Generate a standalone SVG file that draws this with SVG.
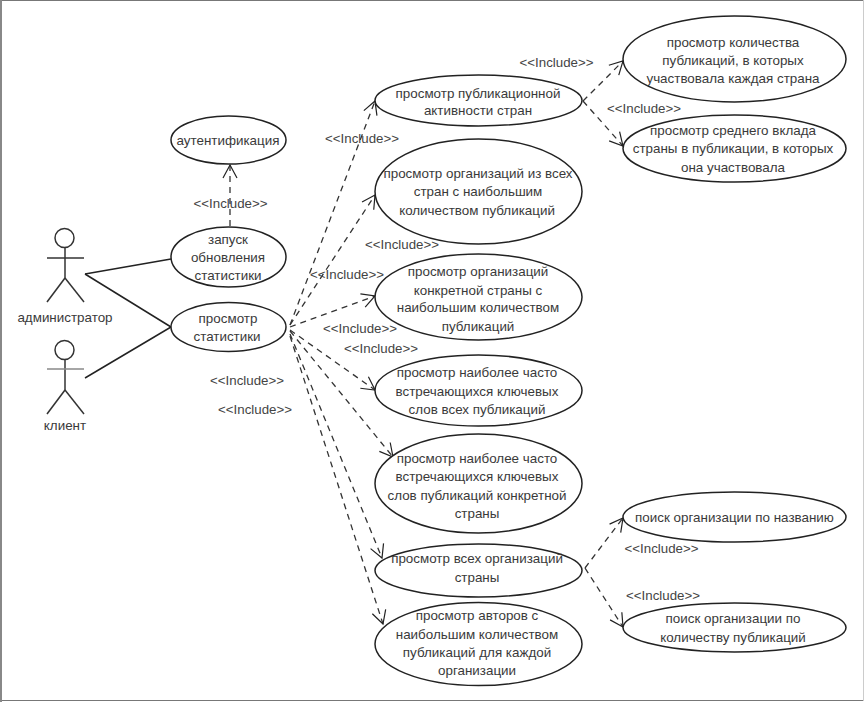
<svg xmlns="http://www.w3.org/2000/svg" width="864" height="702" viewBox="0 0 864 702">
<defs>
<marker id="a" markerWidth="18" markerHeight="18" refX="15" refY="9" orient="auto" markerUnits="userSpaceOnUse"><path d="M2 2L15 9L2 16" fill="none" stroke="#222" stroke-width="1.200"/></marker>
</defs>
<style>
text{font-family:"Liberation Sans",Arial,sans-serif;font-size:13.400px;fill:#3a3a3a;text-anchor:middle}
.n ellipse{fill:#fff;stroke:#222;stroke-width:1.500}
.act line,.act circle{fill:#fff;stroke:#333;stroke-width:1.500}
#c line.s{stroke:#222;stroke-width:1.500}
#c line.d{stroke:#333;stroke-width:1.300;stroke-dasharray:6 5;marker-end:url(#a)}
.l{font-size:13.300px;fill:#444}
</style>
<rect width="864" height="702" fill="#fff"/>
<path d="M0 .5H864M0 700.500H864" fill="none" stroke="#777" stroke-width="1"/>
<path d="M1 0V702" fill="none" stroke="#888" stroke-width="2"/>
<path d="M863.500 0V701" fill="none" stroke="#ccc" stroke-width="1"/>
<g id="c">
<line class="s" x1="85" y1="274" x2="171" y2="259"/>
<line class="s" x1="85" y1="274" x2="171" y2="327"/>
<line class="s" x1="85" y1="378" x2="171" y2="327"/>
<line class="d" x1="230" y1="226" x2="230" y2="165"/>
<line class="d" x1="290" y1="325" x2="375" y2="101"/>
<line class="d" x1="290" y1="325" x2="375" y2="195"/>
<line class="d" x1="290" y1="327" x2="375" y2="296"/>
<line class="d" x1="290" y1="330" x2="375" y2="390"/>
<line class="d" x1="290" y1="331" x2="393" y2="457"/>
<line class="d" x1="290" y1="334" x2="382" y2="558"/>
<line class="d" x1="290" y1="336" x2="383" y2="624"/>
<line class="d" x1="583" y1="101" x2="623" y2="61"/>
<line class="d" x1="583" y1="101" x2="623" y2="146"/>
<line class="d" x1="585" y1="568" x2="623" y2="518"/>
<line class="d" x1="585" y1="568" x2="623" y2="627"/>
</g>
<g id="actor-admin" class="act"><circle cx="64.500" cy="238" r="9.500"/><line x1="65" y1="248" x2="65" y2="278"/><line x1="47" y1="258" x2="84" y2="258"/><line x1="65" y1="278" x2="47" y2="302"/><line x1="65" y1="278" x2="84" y2="302"/><text x="65" y="322">администратор</text></g>
<g id="actor-client" class="act"><circle cx="64.500" cy="350" r="9.500"/><line x1="65" y1="360" x2="65" y2="390"/><line x1="47" y1="369" x2="84" y2="369" style="stroke:#888"/><line x1="65" y1="390" x2="47" y2="414"/><line x1="65" y1="390" x2="84" y2="414"/><text x="65" y="430">клиент</text></g>
<g id="n1" class="n"><ellipse cx="228.500" cy="140" rx="57.500" ry="24"/><text x="228" y="145">аутентификация</text></g>
<g id="n2" class="n"><ellipse cx="228.500" cy="257" rx="57.500" ry="30"/><text x="228" y="244">запуск</text><text x="228" y="262">обновления</text><text x="228" y="280">статистики</text></g>
<g id="n3" class="n"><ellipse cx="228.500" cy="327" rx="57.500" ry="24.500"/><text x="228" y="323">просмотр</text><text x="227" y="341">статистики</text></g>
<g id="n4" class="n"><ellipse cx="478.500" cy="100.500" rx="103.500" ry="25.500"/><text x="478" y="98">просмотр публикационной</text><text x="478" y="115">активности стран</text></g>
<g id="n5" class="n"><ellipse cx="478.500" cy="191.500" rx="103.500" ry="52.500"/><text x="478" y="178">просмотр организаций из всех</text><text x="478" y="196">стран с наибольшим</text><text x="477" y="215">количеством публикаций</text></g>
<g id="n6" class="n"><ellipse cx="478.500" cy="297" rx="103.500" ry="43"/><text x="478" y="276">просмотр организаций</text><text x="478" y="295">конкретной страны с</text><text x="478" y="312">наибольшим количеством</text><text x="478" y="331">публикаций</text></g>
<g id="n7" class="n"><ellipse cx="478.500" cy="390.500" rx="103.500" ry="35.500"/><text x="477" y="377">просмотр наиболее часто</text><text x="477" y="396">встречающихся ключевых</text><text x="477" y="414">слов всех публикаций</text></g>
<g id="n8" class="n"><ellipse cx="478.500" cy="483.500" rx="103.500" ry="49.500"/><text x="477" y="463">просмотр наиболее часто</text><text x="477" y="481">встречающихся ключевых</text><text x="477" y="500">слов публикаций конкретной</text><text x="477" y="518">страны</text></g>
<g id="n9" class="n"><ellipse cx="478.500" cy="570.500" rx="103.500" ry="26.500"/><text x="477" y="563">просмотр всех организаций</text><text x="477" y="582">страны</text></g>
<g id="n10" class="n"><ellipse cx="478.500" cy="644" rx="103.500" ry="41.500"/><text x="477" y="620">просмотр авторов с</text><text x="477" y="639">наибольшим количеством</text><text x="477" y="657">публикаций для каждой</text><text x="477" y="675">организации</text></g>
<g id="n11" class="n"><ellipse cx="734.500" cy="59" rx="111.500" ry="43"/><text x="733" y="47">просмотр количества</text><text x="733" y="65">публикаций, в которых</text><text x="733" y="83">участвовала каждая страна</text></g>
<g id="n12" class="n"><ellipse cx="734.500" cy="148.500" rx="111.500" ry="33.500"/><text x="733" y="135">просмотр среднего вклада</text><text x="733" y="153">страны в публикации, в которых</text><text x="733" y="172">она участвовала</text></g>
<g id="n13" class="n"><ellipse cx="734.500" cy="517" rx="111.500" ry="25"/><text x="734.500" y="522">поиск организации по названию</text></g>
<g id="n14" class="n"><ellipse cx="734.500" cy="627.500" rx="111.500" ry="24.500"/><text x="733" y="623">поиск организации по</text><text x="733" y="642">количеству публикаций</text></g>
<g id="labels">
<text class="l" x="230.500" y="208">&lt;&lt;Include&gt;&gt;</text>
<text class="l" x="362" y="143">&lt;&lt;Include&gt;&gt;</text>
<text class="l" x="556.500" y="66.500">&lt;&lt;Include&gt;&gt;</text>
<text class="l" x="644" y="113">&lt;&lt;Include&gt;&gt;</text>
<text class="l" x="402" y="249">&lt;&lt;Include&gt;&gt;</text>
<text class="l" x="347" y="279">&lt;&lt;Include&gt;&gt;</text>
<text class="l" x="360" y="333">&lt;&lt;Include&gt;&gt;</text>
<text class="l" x="381" y="353">&lt;&lt;Include&gt;&gt;</text>
<text class="l" x="247" y="385">&lt;&lt;Include&gt;&gt;</text>
<text class="l" x="255" y="414">&lt;&lt;Include&gt;&gt;</text>
<text class="l" x="661.500" y="553">&lt;&lt;Include&gt;&gt;</text>
<text class="l" x="663" y="600">&lt;&lt;Include&gt;&gt;</text>
</g>
</svg>
